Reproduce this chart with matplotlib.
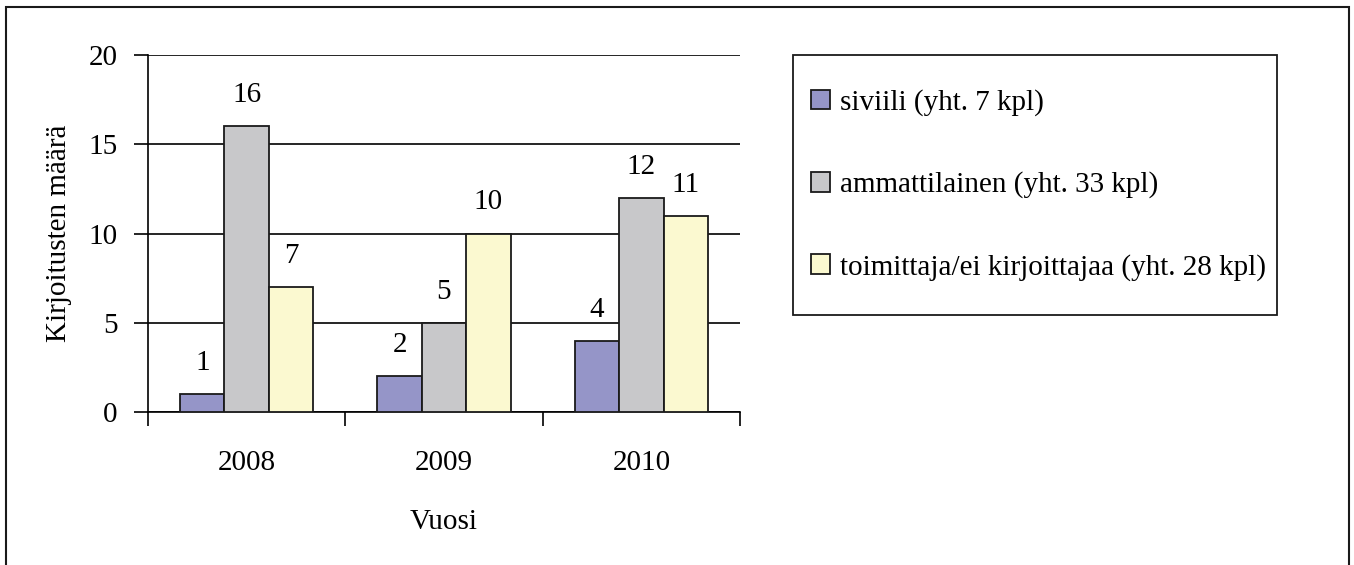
import numpy as np
import matplotlib.pyplot as plt
from matplotlib.patches import Rectangle

vuodet = ['2008', '2009', '2010']
sarjat = ['siviili (yht. 7 kpl)', 'ammattilainen (yht. 33 kpl)',
          'toimittaja/ei kirjoittajaa (yht. 28 kpl)']
siviili = [1, 2, 4]
ammattilainen = [16, 5, 12]
toimittaja = [7, 10, 11]
varit = ['#9595c8', '#c8c8ca', '#fbf9d0']

plt.rcParams['font.family'] = ['Liberation Serif', 'DejaVu Serif']
fs = 21

fig = plt.figure(figsize=(13.54, 5.65), dpi=100)
ax = fig.add_axes([148 / 1354, 1 - 412 / 565, 592 / 1354, 357 / 565])

x = np.arange(len(vuodet))
w = 0.225
for i, (arvot, nimi, vari) in enumerate(zip([siviili, ammattilainen, toimittaja], sarjat, varit)):
    pos = x + (i - 1) * w
    ax.bar(pos, arvot, w, color=vari, edgecolor='#1a1a1a', linewidth=1.3, label=nimi, zorder=3)
    for xx, v in zip(pos, arvot):
        ax.annotate(str(v), (xx, v), xytext=(0, 13), textcoords='offset points',
                    ha='center', va='bottom', fontsize=fs)

ax.set_xlim(-0.5, 2.5)
ax.set_ylim(0, 20)
ax.set_yticks([0, 5, 10, 15, 20])
ax.yaxis.grid(True, color='black', linewidth=1.2, zorder=0)
ax.set_xticks([-0.5, 0.5, 1.5, 2.5])
ax.set_xticklabels([])
ax.set_xticks(x, minor=True)
ax.set_xticklabels(vuodet, minor=True)
ax.tick_params(axis='x', which='minor', length=0, pad=27, labelsize=fs)
ax.tick_params(axis='x', which='major', length=10, width=1.2, direction='out')
ax.tick_params(axis='y', length=10, width=1.2, direction='out', labelsize=fs, pad=12)
for s in ['top', 'right']:
    ax.spines[s].set_visible(False)
for s in ['left', 'bottom']:
    ax.spines[s].set_linewidth(1.2)

ax.set_ylabel('Kirjoitusten määrä', fontsize=fs, labelpad=12)
ax.set_xlabel('Vuosi', fontsize=fs, labelpad=24)

# legend with a separate frame, as in the original
handles, labels = ax.get_legend_handles_labels()
leg = fig.legend(handles, labels, loc='center left',
                 bbox_to_anchor=(811 / 1354, 1 - 185 / 565),
                 fontsize=fs, frameon=False,
                 handlelength=0.66, handleheight=0.66, handletextpad=0.33,
                 labelspacing=1.9, borderpad=0, borderaxespad=0)
fig.patches.append(Rectangle((793 / 1354, 1 - 315 / 565), 484 / 1354, 260 / 565,
                             transform=fig.transFigure, fill=False,
                             edgecolor='#1a1a1a', linewidth=1.3))

# outer chart border (open at the bottom)
fig.patches.append(Rectangle((6 / 1354, -0.1), 1343 / 1354, 1.1 - 7 / 565,
                             transform=fig.transFigure, fill=False,
                             edgecolor='#1a1a1a', linewidth=1.5))

fig.savefig('out.png', dpi=100)
